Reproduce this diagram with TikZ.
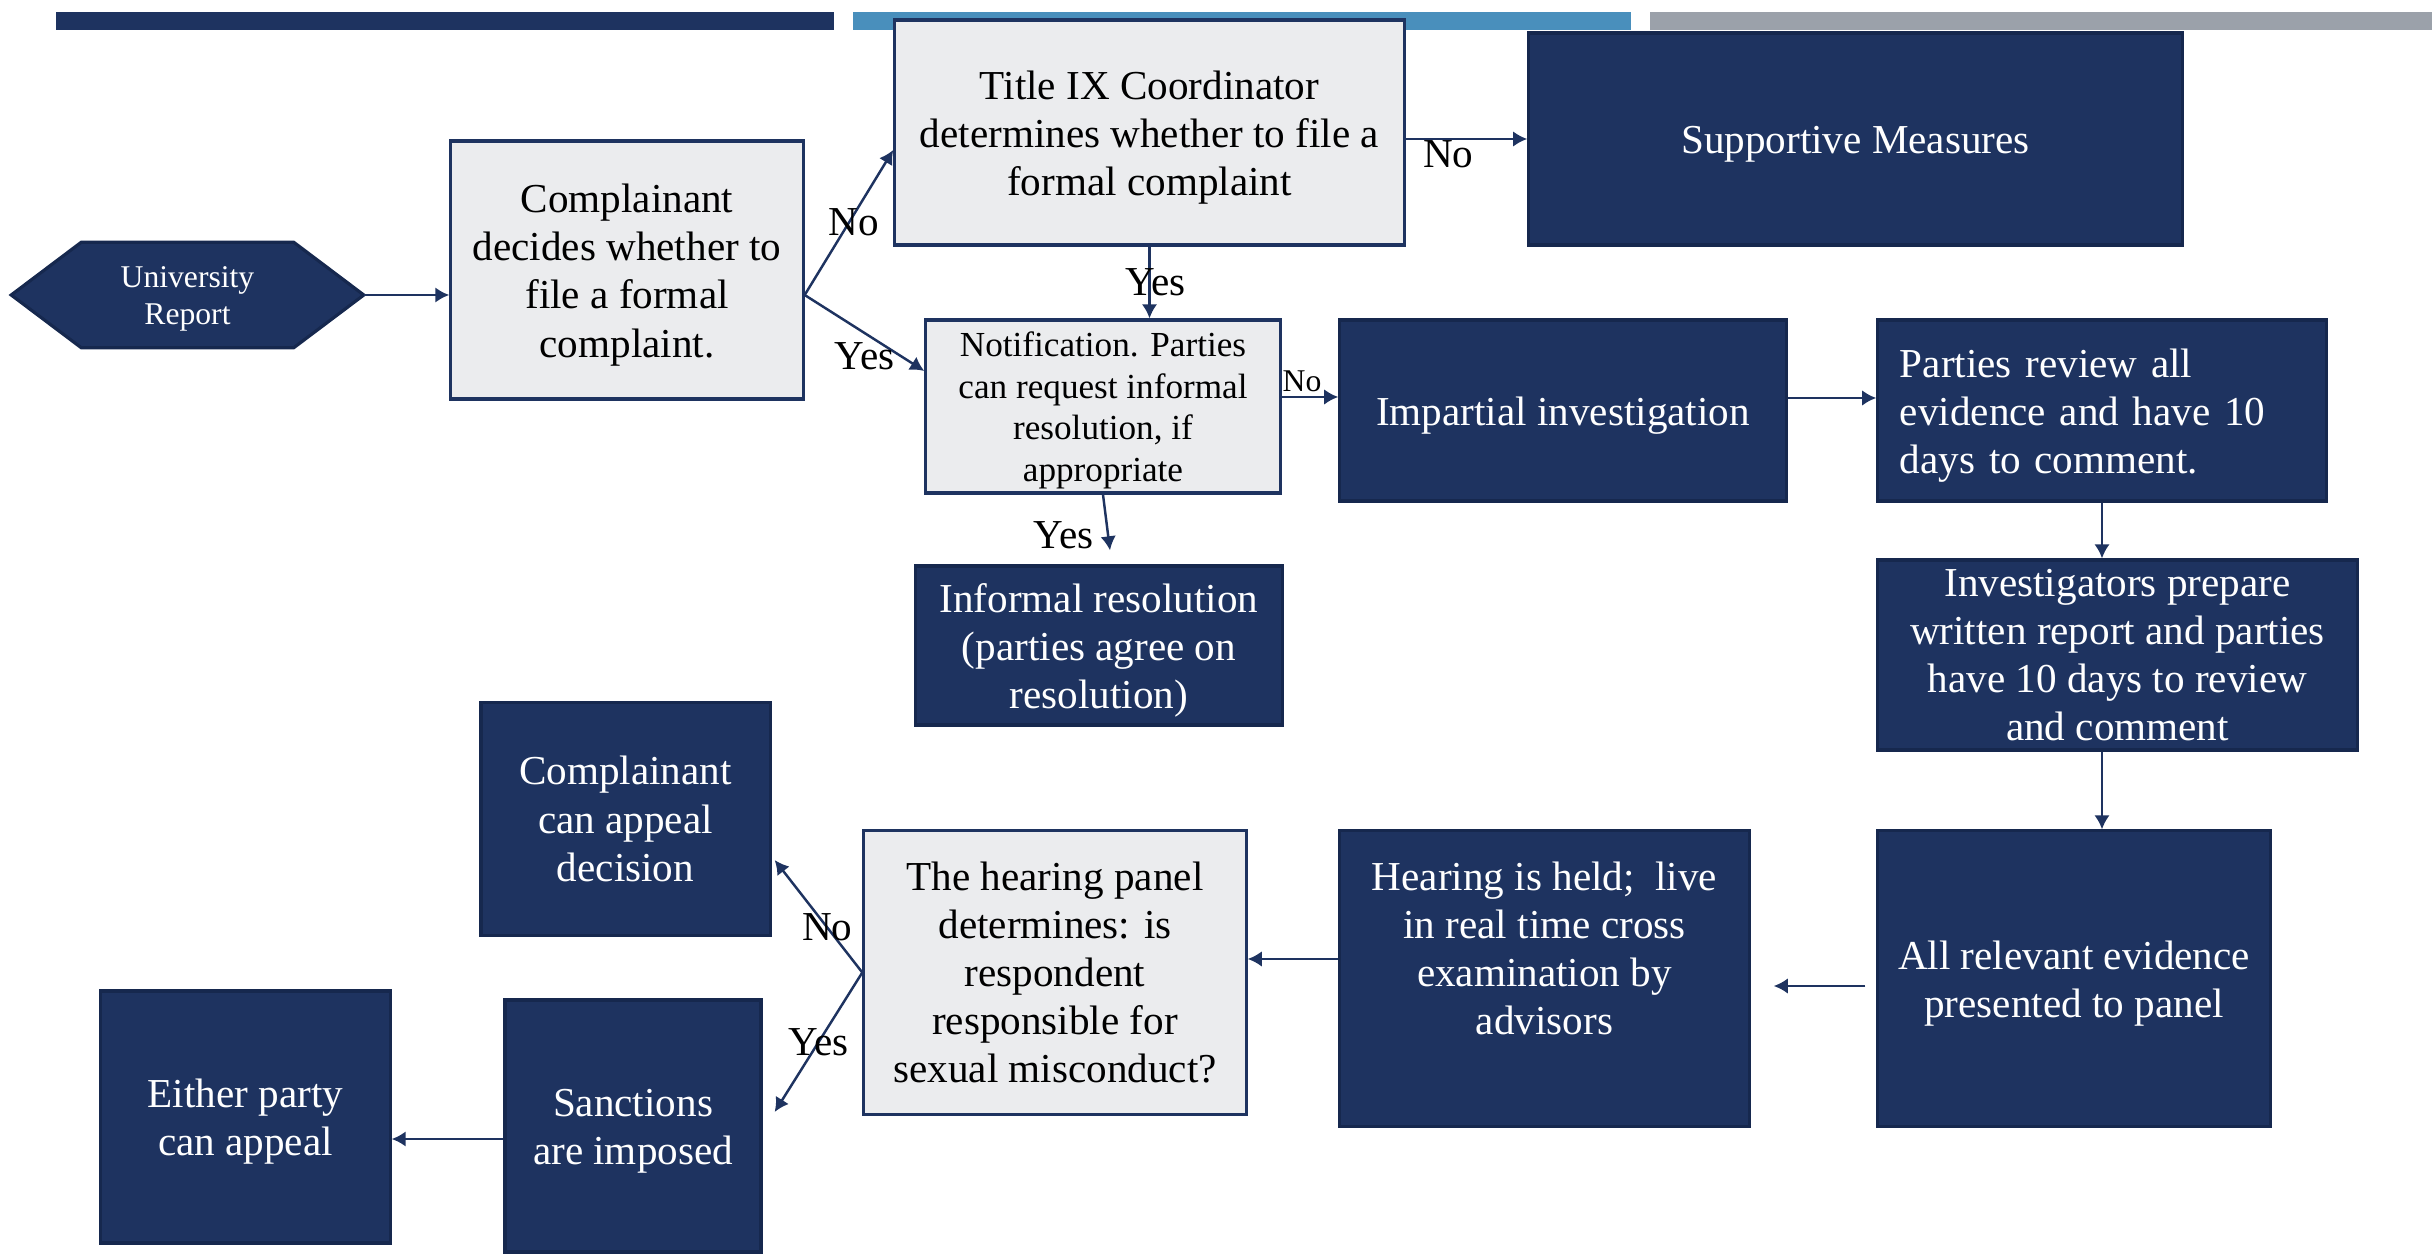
\documentclass[tikz,border=0pt]{standalone}
\usepackage{fontspec}
\setmainfont{Liberation Serif}
\usetikzlibrary{arrows.meta,backgrounds}
\definecolor{navy}{RGB}{30,51,96}
\definecolor{navyline}{RGB}{22,40,78}
\definecolor{steel}{RGB}{73,143,188}
\definecolor{slate}{RGB}{155,161,170}
\definecolor{paper}{RGB}{235,236,238}
\newcommand{\bodyfont}{\fontsize{11.7}{13.7}\selectfont}
\newcommand{\smallfont}{\fontsize{9}{10.5}\selectfont}
\newcommand{\topline}{\rule{0pt}{0.93em}}
\tikzset{
  lightbox/.style={draw=navy, line width=0.9pt, fill=paper, align=center, font=\bodyfont, inner sep=0pt},
  darkbox/.style={draw=navyline, line width=0.9pt, fill=navy, text=white, align=center, font=\bodyfont, inner sep=0pt},
  conn/.style={->, draw=navy, line width=0.7pt},
  lab/.style={font=\bodyfont, inner sep=1pt},
}

\begin{document}
\begin{tikzpicture}[x=0.01cm, y=-0.01cm, >={Latex[length=4pt,width=4.4pt]}]
        \useasboundingbox (0,0) rectangle (2432,1255);

        % Bars along the top
        \fill[navy] (56,12) rectangle (834,30);
        \fill[steel] (853,12) rectangle (1631,30);
        \fill[slate] (1650,12) rectangle (2432,30);

        % Report and first decisions
        \node (ur) [text=white, align=center, font=\smallfont, inner sep=0pt,
            minimum width=3.51cm, minimum height=1.04cm] at (187.5,295) {\topline University\\Report};
        \begin{scope}[on background layer]
            \filldraw[draw=navyline, fill=navy, line width=0.9pt] (ur.west) -- ([xshift=0.7cm]ur.north west)
                -- ([xshift=-0.7cm]ur.north east) -- (ur.east) -- ([xshift=-0.7cm]ur.south east)
                -- ([xshift=0.7cm]ur.south west) -- cycle;
        \end{scope}
        \node (cdec) [lightbox, minimum width=3.52cm, minimum height=2.58cm] at (627,270)
            {\topline Complainant\\decides whether to\\file a formal\\complaint.};
        \node (tix) [lightbox, minimum width=5.09cm, minimum height=2.25cm] at (1149.5,132.5)
            {\topline Title IX Coordinator\\determines whether to file a\\formal complaint};
        \node (supp) [darkbox, minimum width=6.53cm, minimum height=2.12cm] at (1855.5,139) {\topline Supportive Measures};
        \node (notif) [lightbox, font=\fontsize{10}{11.8}\selectfont, minimum width=3.54cm, minimum height=1.73cm] at (1103,406.5)
            {\topline Notification. Parties\\can request informal\\resolution, if\\appropriate};
        \node (infr) [darkbox, minimum width=3.66cm, minimum height=1.59cm] at (1099,645.5)
            {\topline Informal resolution\\(parties agree on\\resolution)};

        % Investigation
        \node (imp) [darkbox, minimum width=4.46cm, minimum height=1.81cm] at (1563,410.5) {\topline Impartial investigation};
        \node (prev) [darkbox, align=left, text width=4.04cm, inner xsep=0.22cm, minimum height=1.81cm] at (2102,410.5)
            {\topline Parties review all\\evidence and have 10\\days to comment.};
        \node (inv) [darkbox, minimum width=4.79cm, minimum height=1.90cm] at (2117.5,655)
            {Investigators prepare\\written report and parties\\have 10 days to review\\and comment};
        \node (allev) [darkbox, minimum width=3.92cm, minimum height=2.95cm] at (2074,978.5)
            {\topline All relevant evidence\\presented to panel};

        % Hearing and outcome
        \node (held) [darkbox, minimum width=4.09cm, minimum height=2.95cm] at (1544.5,978.5) {};
        \node (heldtext) [text=white, align=center, font=\bodyfont, inner sep=0pt] at ([yshift=0.35cm]held.center)
            {\topline Hearing is held;\ \ live\\in real time cross\\examination by\\advisors};
        \node (panel) [lightbox, minimum width=3.82cm, minimum height=2.83cm] at (1055,972.5)
            {The hearing panel\\determines: is\\respondent\\responsible for\\sexual misconduct?};
        \node (capp) [darkbox, minimum width=2.89cm, minimum height=2.33cm] at (625.5,819)
            {Complainant\\can appeal\\decision};
        \node (sanc) [darkbox, minimum width=2.56cm, minimum height=2.52cm] at (633,1126) {\topline Sanctions\\are imposed};
        \node (either) [darkbox, minimum width=2.89cm, minimum height=2.52cm] at (245.5,1117) {\topline Either party\\can appeal};

        % Connectors
        \coordinate (split) at (cdec.east |- ur.east);
        \draw[conn] (ur.east) -- (ur.east -| cdec.west);
        \draw[conn] (split) -- ([yshift=-0.175cm]tix.west) node[lab, midway, xshift=0.05cm] {No};
        \draw[conn] (split) -- ([yshift=0.355cm]notif.west) node[lab, midway, below, yshift=-0.05cm] {Yes};
        \draw[conn] (tix.south) -- (tix.south |- notif.north) node[lab, midway, xshift=0.06cm] {Yes};
        \draw[conn] (supp.west -| tix.east) -- (supp.west) node[lab, pos=0.35, below, inner sep=0pt] {No};
        \draw[conn] ([yshift=0.135cm]imp.west -| notif.east) -- ([yshift=0.135cm]imp.west)
            node[font=\smallfont, inner sep=1pt, pos=0.36, above] {No};
        \draw[conn] (notif.south) -- ([xshift=0.11cm, yshift=0.14cm]infr.north)
            node[lab, pos=0.73, left, xshift=-0.1cm] {Yes};
        \draw[conn] ([yshift=0.125cm]imp.east) -- ([yshift=0.125cm]prev.west);
        \draw[conn] (prev.south) -- (prev.south |- inv.north);
        \draw[conn] (prev.south |- inv.south) -- (prev.south |- allev.north);

        \coordinate (fa) at ([xshift=-0.11cm, yshift=-0.075cm]allev.west);
        \coordinate (fb) at ([xshift=0.23cm, yshift=-0.075cm]held.east);
        \draw[conn] (fa) -- (fb);

        \draw[conn] ([yshift=0.195cm]held.west) -- ([yshift=0.195cm]held.west -| panel.east);
        \draw[conn] (panel.west) -- ([xshift=0.03cm, yshift=-0.41cm]capp.east) node[lab, pos=0.4] {No};
        \draw[conn] (panel.west) -- ([xshift=0.12cm, yshift=0.14cm]sanc.east) node[lab, midway] {Yes};
        \draw[conn] ([yshift=-0.13cm]sanc.west) -- ([yshift=-0.13cm]sanc.west -| either.east);
    \end{tikzpicture}
\end{document}
